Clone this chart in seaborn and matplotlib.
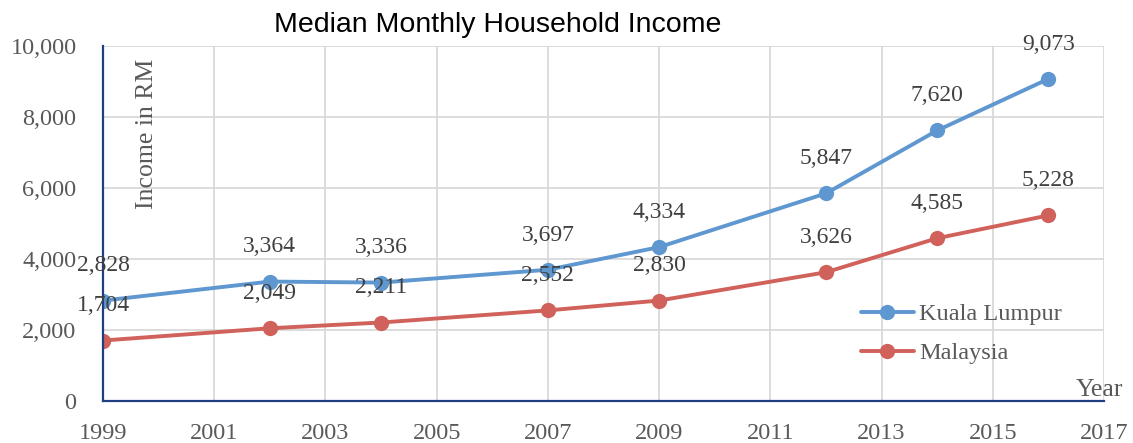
import pandas as pd
import matplotlib
matplotlib.use("Agg")
import matplotlib.pyplot as plt
import seaborn as sns

# données
years = [1999, 2002, 2004, 2007, 2009, 2012, 2014, 2016]
kuala_lumpur = [2828, 3364, 3336, 3697, 4334, 5847, 7620, 9073]
malaysia = [1704, 2049, 2211, 2552, 2830, 3626, 4585, 5228]
series_names = ["Kuala Lumpur", "Malaysia"]
x_ticks = [1999, 2001, 2003, 2005, 2007, 2009, 2011, 2013, 2015, 2017]
y_ticks = [0, 2000, 4000, 6000, 8000, 10000]

df = pd.DataFrame({
    "Year": years * 2,
    "Income": kuala_lumpur + malaysia,
    "Region": [series_names[0]] * len(years) + [series_names[1]] * len(years),
})

sns.set_theme(style="whitegrid")
plt.rcParams["font.family"] = ["Liberation Serif", "DejaVu Serif"]

palette = {"Kuala Lumpur": "#5f97d0", "Malaysia": "#d0625b"}
grey = "#595959"
navy = "#1f3f80"

fig = plt.figure(figsize=(11.33, 4.43), dpi=100)
ax = fig.add_axes([0.0909, 0.0948, 0.8835, 0.8014])

sns.lineplot(data=df, x="Year", y="Income", hue="Region", palette=palette,
             marker="o", markersize=11, markeredgewidth=0, linewidth=2.8,
             ax=ax)

# étiquettes des valeurs
for name, values in zip(series_names, [kuala_lumpur, malaysia]):
    for x, y in zip(years, values):
        ax.annotate(f"{y:,}", (x, y), xytext=(0, 25), textcoords="offset points",
                    ha="center", va="center", fontsize=17, color="#404040")

ax.set_xlim(1999, 2017)
ax.set_ylim(0, 10000)
ax.set_xticks(x_ticks)
ax.set_yticks(y_ticks)
ax.set_yticklabels([f"{v:,}" for v in y_ticks])
ax.tick_params(axis="both", labelsize=17.5, colors=grey, length=6, width=1.5, color=navy)
ax.tick_params(axis="y", direction="out", pad=13)
ax.tick_params(axis="x", direction="out", pad=10)
ax.grid(True, color="#d9d9d9", linewidth=1.3)

for side in ["top", "right"]:
    ax.spines[side].set_visible(False)
for side in ["left", "bottom"]:
    ax.spines[side].set_color(navy)
    ax.spines[side].set_linewidth(1.6)

ax.set_xlabel("")
ax.set_ylabel("")
ax.text(0.044, 0.965, "Income in RM", transform=ax.transAxes, rotation=90,
        ha="center", va="top", fontsize=18.5, color=grey)
ax.text(0.995, 0.0, "Year", transform=ax.transAxes, ha="center", va="bottom",
        fontsize=18.5, color=grey)

fig.text(0.439, 0.944, "Median Monthly Household Income", ha="center", va="center",
         fontsize=20.5, family=["Liberation Sans", "DejaVu Sans"], color="black")

leg = ax.legend(loc="center left", bbox_to_anchor=(0.735, 0.19), frameon=False,
                fontsize=17.5, handlelength=2.2, labelspacing=0.7, handletextpad=0.2)
for t in leg.get_texts():
    t.set_color(grey)

fig.savefig("out.png", dpi=100)
